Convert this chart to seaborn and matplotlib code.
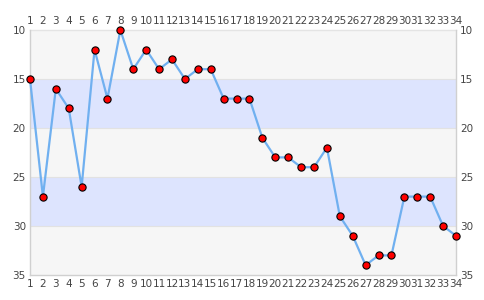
import matplotlib
matplotlib.use("Agg")
import matplotlib.pyplot as plt
import seaborn as sns
import pandas as pd

positions = list(range(1, 35))
values = [15, 27, 16, 18, 26, 12, 17, 10, 14, 12, 14, 13, 15, 14, 14, 17, 17, 17,
          21, 23, 23, 24, 24, 22, 29, 31, 34, 33, 33, 27, 27, 27, 30, 31]
y_ticks = [10, 15, 20, 25, 30, 35]

sns.set_theme(style="white")
plt.rcParams['font.family'] = ['DejaVu Sans']

df = pd.DataFrame({"x": positions, "y": values})

fig = plt.figure(figsize=(4.85, 3.0), dpi=100)
ax = fig.add_axes([30/485, 1-275/300, 426/485, 245/300])

band_colors = ["#f6f6f6", "#dde4fe"]
for i in range(len(y_ticks) - 1):
    ax.axhspan(y_ticks[i], y_ticks[i+1], color=band_colors[i % 2], zorder=0, lw=0)
for t in y_ticks[1:-1]:
    ax.axhline(t, color="#e2e2e2", lw=0.8, zorder=0.5)

sns.lineplot(data=df, x="x", y="y", ax=ax, color="#70b0f0", lw=1.6,
             marker="o", markersize=5.2, markerfacecolor="#ff0000",
             markeredgecolor="#000000", markeredgewidth=0.8, zorder=3, clip_on=False)

ax.set_xlim(1, 34)
ax.set_ylim(35, 10)
ax.set_xticks(positions)
ax.set_yticks(y_ticks)
ax.set_xlabel("")
ax.set_ylabel("")
ax.tick_params(axis="both", length=0, labelsize=7.5, labelcolor="#444444", pad=3)
ax.tick_params(axis="x", top=True, labeltop=True, bottom=True, labelbottom=True)
ax.tick_params(axis="y", left=True, labelleft=True, right=True, labelright=True)
for side, sp in ax.spines.items():
    sp.set_color("#d0d0d0")
    sp.set_linewidth(1)
ax.spines["top"].set_color("#e4e4e4")
ax.spines["top"].set_zorder(0.6)

fig.savefig("out.png", dpi=100)
